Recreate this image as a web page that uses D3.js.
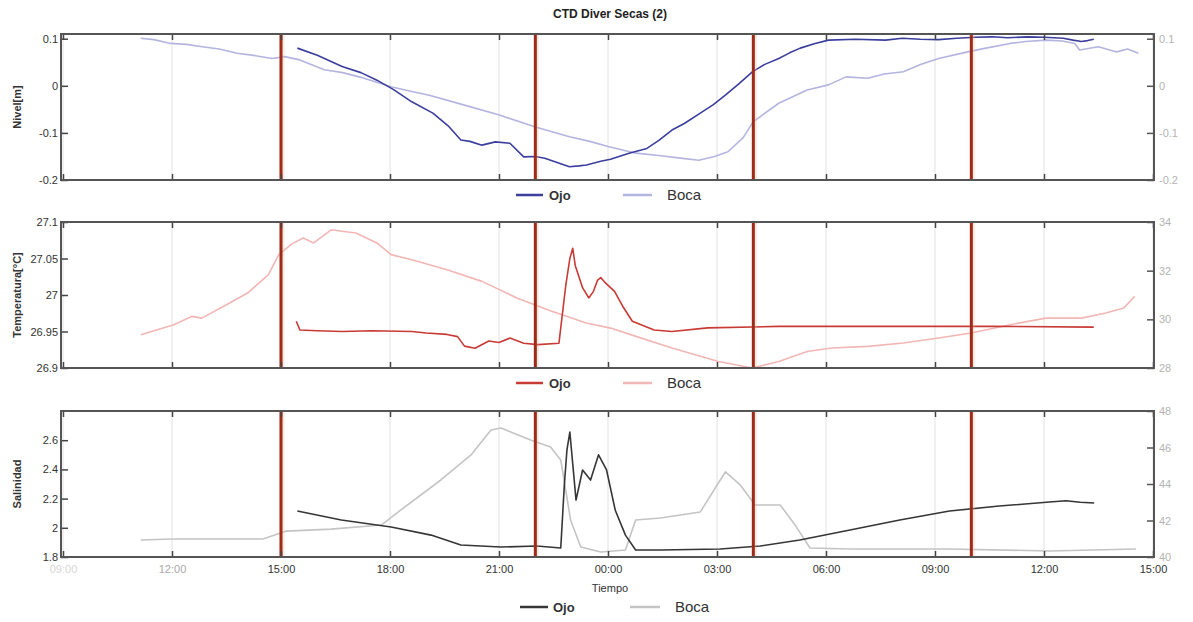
<!DOCTYPE html>
<html>
<head>
<meta charset="utf-8">
<script src="https://cdn.jsdelivr.net/npm/d3@7"></script>
<style>
  html, body { margin: 0; padding: 0; background: #fff; }
  svg { display: block; font-family: "Liberation Sans", Arial, sans-serif; }
</style>
</head>
<body>
<svg id="chart" width="1193" height="622"></svg>
<script>
// Time is given in hours from midnight of the first day (24+ = next day).
const timeDomain = [9, 39];
const eventHours = [15, 22, 28, 34];

// --- Nivel [m] ---
const nivelOjoH = [15.45, 16.0, 16.68, 17.2, 17.64, 18.1, 18.6, 19.18, 19.6, 19.95, 20.2, 20.53, 20.9, 21.3, 21.68, 22.0, 22.26, 22.6, 22.94, 23.2, 23.41, 23.8, 24.07, 24.58, 25.07, 25.4, 25.76, 26.1, 26.54, 26.9, 27.23, 27.6, 27.98, 28.3, 28.7, 29.0, 29.29, 29.7, 30.07, 30.8, 31.64, 32.1, 32.6, 33.1, 33.6, 34.1, 34.58, 35.0, 35.56, 36.0, 36.53, 36.8, 37.03, 37.2, 37.37];
const nivelOjo  = [0.080, 0.065, 0.041, 0.028, 0.012, -0.008, -0.034, -0.058, -0.085, -0.115, -0.118, -0.126, -0.119, -0.122, -0.151, -0.150, -0.154, -0.163, -0.172, -0.170, -0.168, -0.160, -0.156, -0.143, -0.133, -0.116, -0.094, -0.080, -0.058, -0.040, -0.020, 0.004, 0.030, 0.045, 0.058, 0.070, 0.080, 0.090, 0.097, 0.099, 0.097, 0.101, 0.099, 0.098, 0.101, 0.103, 0.104, 0.102, 0.104, 0.103, 0.101, 0.097, 0.094, 0.096, 0.099];
const nivelBocaH = [11.14, 11.5, 11.96, 12.4, 12.83, 13.3, 13.79, 14.3, 14.75, 15.1, 15.52, 16.19, 16.7, 17.15, 18.03, 18.6, 19.08, 20.05, 21.01, 21.98, 22.94, 23.5, 24.0, 24.77, 25.4, 26.05, 26.5, 26.93, 27.3, 27.72, 28.0, 28.7, 29.48, 30.07, 30.55, 31.15, 31.6, 32.13, 32.6, 33.1, 33.9, 34.4, 35.07, 35.5, 36.05, 36.5, 36.85, 36.98, 37.5, 38.0, 38.3, 38.6];
const nivelBoca  = [0.101, 0.098, 0.090, 0.088, 0.083, 0.078, 0.069, 0.064, 0.058, 0.062, 0.055, 0.034, 0.028, 0.019, -0.002, -0.012, -0.020, -0.041, -0.062, -0.087, -0.108, -0.118, -0.129, -0.143, -0.148, -0.154, -0.158, -0.150, -0.140, -0.110, -0.076, -0.037, -0.009, 0.002, 0.019, 0.016, 0.025, 0.030, 0.045, 0.058, 0.072, 0.080, 0.090, 0.094, 0.097, 0.095, 0.090, 0.076, 0.083, 0.072, 0.078, 0.069];

// --- Temperatura [°C] (Ojo: left axis, Boca: right axis) ---
const tempOjoH = [15.42, 15.52, 16.0, 16.68, 17.5, 18.6, 19.0, 19.57, 19.86, 20.05, 20.34, 20.72, 21.0, 21.3, 21.68, 22.07, 22.65, 22.84, 22.95, 23.03, 23.1, 23.18, 23.3, 23.47, 23.6, 23.71, 23.8, 23.9, 24.18, 24.4, 24.67, 25.27, 25.76, 26.74, 28.7, 31.64, 34.58, 37.37];
const tempOjo  = [26.964, 26.952, 26.951, 26.950, 26.951, 26.950, 26.948, 26.946, 26.943, 26.930, 26.927, 26.937, 26.935, 26.941, 26.934, 26.932, 26.934, 27.014, 27.050, 27.064, 27.040, 27.028, 27.010, 26.996, 27.005, 27.020, 27.024, 27.018, 27.005, 26.985, 26.964, 26.952, 26.950, 26.955, 26.957, 26.957, 26.957, 26.956];
const tempBocaH = [11.14, 12.05, 12.54, 12.82, 13.5, 14.08, 14.65, 14.94, 15.3, 15.61, 15.9, 16.38, 16.68, 17.06, 17.64, 18.03, 18.6, 19.57, 20.53, 21.49, 22.45, 23.4, 24.07, 24.77, 25.76, 27.04, 27.97, 28.7, 29.48, 30.16, 31.15, 32.13, 33.1, 33.99, 35.07, 36.05, 37.03, 37.7, 38.2, 38.5];
const tempBoca  = [29.37, 29.78, 30.12, 30.05, 30.60, 31.08, 31.83, 32.66, 33.10, 33.34, 33.14, 33.68, 33.62, 33.55, 33.14, 32.66, 32.45, 32.04, 31.56, 30.88, 30.33, 29.85, 29.64, 29.30, 28.82, 28.27, 28.00, 28.27, 28.68, 28.82, 28.89, 29.03, 29.23, 29.44, 29.78, 30.05, 30.05, 30.26, 30.47, 30.95];

// --- Salinidad (Ojo: left axis, Boca: right axis) ---
const salOjoH = [15.45, 16.66, 18.03, 19.13, 19.95, 21.05, 22.04, 22.7, 22.8, 22.87, 22.95, 23.12, 23.3, 23.52, 23.74, 23.96, 24.2, 24.48, 24.76, 25.44, 27.09, 28.19, 29.28, 30.66, 32.03, 33.4, 34.77, 36.15, 36.6, 37.0, 37.38];
const salOjo  = [2.115, 2.053, 2.005, 1.950, 1.882, 1.868, 1.875, 1.862, 2.300, 2.533, 2.656, 2.190, 2.396, 2.327, 2.500, 2.396, 2.120, 1.950, 1.848, 1.848, 1.855, 1.875, 1.916, 1.985, 2.053, 2.115, 2.149, 2.177, 2.185, 2.175, 2.170];
const salBocaH = [11.14, 12.0, 14.5, 15.15, 16.38, 17.76, 18.3, 19.4, 20.23, 20.78, 21.05, 21.87, 22.42, 22.7, 22.97, 23.25, 23.8, 24.48, 24.76, 25.44, 26.54, 27.09, 27.23, 27.64, 28.05, 28.74, 29.15, 29.56, 30.66, 33.4, 36.15, 38.53];
const salBoca  = [40.93, 40.99, 40.99, 41.42, 41.53, 41.75, 42.58, 44.22, 45.59, 46.96, 47.07, 46.41, 46.03, 45.32, 42.03, 40.55, 40.27, 40.38, 42.03, 42.14, 42.47, 44.22, 44.66, 43.95, 42.85, 42.85, 41.75, 40.49, 40.44, 40.44, 40.33, 40.44];

// Axis tick values
const nivelTicks = [-0.2, -0.1, 0, 0.1];
const tempLeftTicks = [26.9, 26.95, 27, 27.05, 27.1];
const tempRightTicks = [28, 30, 32, 34];
const salLeftTicks = [1.8, 2, 2.2, 2.4, 2.6];
const salRightTicks = [40, 42, 44, 46, 48];
const legendNames = ["Ojo", "Boca"];

const base = new Date(2000, 0, 1, 0, 0);
const toDate = h => new Date(base.getTime() + h * 3600 * 1000);
const plainNum = d => String(d);

const svg = d3.select("#chart");
const frameLeft = 61, frameRight = 1154;

const x = d3.scaleTime()
  .domain(timeDomain.map(toDate))
  .range([63, 1153]);
const hourTicks = x.ticks(d3.timeHour.every(3));

const panels = [
  {
    top: 34, bottom: 180, title: "Nivel[m]",
    leftDomain: [-0.2, 0.11], rightDomain: [-0.2, 0.11],
    leftTicks: nivelTicks, rightTicks: nivelTicks,
    ojo: { h: nivelOjoH, v: nivelOjo, axis: "L", color: "#3b3e9c" },
    boca: { h: nivelBocaH, v: nivelBoca, axis: "L", color: "#b3b5e0" },
    legendY: 195
  },
  {
    top: 222, bottom: 368, title: "Temperatura[°C]",
    leftDomain: [26.9, 27.1], rightDomain: [28, 34],
    leftTicks: tempLeftTicks, rightTicks: tempRightTicks,
    ojo: { h: tempOjoH, v: tempOjo, axis: "L", color: "#c83a36" },
    boca: { h: tempBocaH, v: tempBoca, axis: "R", color: "#f1b7b5" },
    legendY: 383
  },
  {
    top: 411, bottom: 557, title: "Salinidad",
    leftDomain: [1.8, 2.8], rightDomain: [40, 48],
    leftTicks: salLeftTicks, rightTicks: salRightTicks,
    ojo: { h: salOjoH, v: salOjo, axis: "L", color: "#363636" },
    boca: { h: salBocaH, v: salBoca, axis: "R", color: "#c4c4c4" },
    legendY: 607
  }
];

// Title
svg.append("text")
  .attr("x", 610).attr("y", 18)
  .attr("text-anchor", "middle")
  .attr("font-size", 12).attr("font-weight", "bold")
  .attr("fill", "#222")
  .text("CTD Diver Secas (2)");

panels.forEach((p, i) => {
  const g = svg.append("g");
  const yL = d3.scaleLinear().domain(p.leftDomain).range([p.bottom, p.top]);
  const yR = d3.scaleLinear().domain(p.rightDomain).range([p.bottom, p.top]);

  // vertical grid
  g.append("g").selectAll("line").data(hourTicks).join("line")
    .attr("x1", d => x(d)).attr("x2", d => x(d))
    .attr("y1", p.top).attr("y2", p.bottom)
    .attr("stroke", "#e2e2e2").attr("stroke-width", 1);

  // series
  const mkLine = (s) => d3.line()
    .x((d, k) => x(toDate(s.h[k])))
    .y((d, k) => (s.axis === "L" ? yL : yR)(s.v[k]));
  [p.boca, p.ojo].forEach(s => {
    g.append("path")
      .datum(s.v)
      .attr("d", mkLine(s))
      .attr("fill", "none")
      .attr("stroke", s.color)
      .attr("stroke-width", 1.6)
      .attr("stroke-linejoin", "round");
  });

  // event markers
  const ev = g.append("g");
  ev.selectAll("line.halo").data(eventHours).join("line")
    .attr("class", "halo")
    .attr("x1", d => x(toDate(d)) + 1).attr("x2", d => x(toDate(d)) + 1)
    .attr("y1", p.top).attr("y2", p.bottom)
    .attr("stroke", "#f6b98a").attr("stroke-width", 5).attr("opacity", 0.3);
  ev.selectAll("line.core").data(eventHours).join("line")
    .attr("class", "core")
    .attr("x1", d => x(toDate(d))).attr("x2", d => x(toDate(d)))
    .attr("y1", p.top).attr("y2", p.bottom)
    .attr("stroke", "#9e2a1c").attr("stroke-width", 3);

  // x ticks (inside, top and bottom)
  const xb = g.append("g").attr("transform", `translate(0,${p.bottom})`)
    .call(d3.axisBottom(x).tickValues(hourTicks).tickSize(-6)
      .tickFormat(i === 2 ? d3.timeFormat("%H:%M") : ""));
  const xt = g.append("g").attr("transform", `translate(0,${p.top})`)
    .call(d3.axisTop(x).tickValues(hourTicks).tickSize(-6).tickFormat(""));
  [xb, xt].forEach(a => {
    a.select(".domain").remove();
    a.selectAll(".tick line").attr("stroke", "#444").attr("stroke-width", 1.5);
  });
  if (i === 2) {
    xb.selectAll(".tick text")
      .attr("dy", "1.2em")
      .attr("font-size", 11)
      .attr("fill", (d, k) => k === 0 ? "#d6d6d6" : (k === 1 ? "#a8a8a8" : "#333"));
  }

  // left axis
  const al = g.append("g").attr("transform", `translate(${frameLeft},0)`)
    .call(d3.axisLeft(yL).tickValues(p.leftTicks).tickSize(-7).tickPadding(3).tickFormat(plainNum));
  al.select(".domain").remove();
  al.selectAll(".tick line").attr("stroke", "#444").attr("stroke-width", 1.5);
  al.selectAll(".tick text").attr("font-size", 11).attr("fill", "#333");

  // right axis
  const ar = g.append("g").attr("transform", `translate(${frameRight},0)`)
    .call(d3.axisRight(yR).tickValues(p.rightTicks).tickSize(-7).tickPadding(5).tickFormat(plainNum));
  ar.select(".domain").remove();
  ar.selectAll(".tick line").attr("stroke", "#555").attr("stroke-width", 1.5);
  ar.selectAll(".tick text").attr("font-size", 11).attr("fill", "#b4b4b4");

  // frame
  g.append("rect")
    .attr("x", frameLeft).attr("y", p.top)
    .attr("width", frameRight - frameLeft).attr("height", p.bottom - p.top)
    .attr("fill", "none").attr("stroke", "#555").attr("stroke-width", 2);

  // y title
  const cy = (p.top + p.bottom) / 2;
  svg.append("text")
    .attr("transform", `translate(21,${cy}) rotate(-90)`)
    .attr("text-anchor", "middle")
    .attr("font-size", 11).attr("font-weight", "bold")
    .attr("fill", "#333")
    .text(p.title);

  // legend
  const lg = svg.append("g").attr("transform", `translate(0,${p.legendY})`);
  const items = [
    { name: legendNames[0], x0: 516, x1: 543, tx: 549, fs: 13, color: p.ojo.color },
    { name: legendNames[1], x0: 623, x1: 652, tx: 667, fs: 15, color: p.boca.color }
  ];
  if (i === 2) { items[0].x0 = 520; items[0].x1 = 548; items[0].tx = 553; items[1].x0 = 630; items[1].x1 = 660; items[1].tx = 675; }
  items.forEach((it, k) => {
    lg.append("line")
      .attr("x1", it.x0).attr("x2", it.x1).attr("y1", 0).attr("y2", 0)
      .attr("stroke", it.color).attr("stroke-width", 2.5);
    lg.append("text")
      .attr("x", it.tx).attr("y", 5)
      .attr("font-size", it.fs).attr("font-weight", k === 0 ? "bold" : "normal")
      .attr("fill", "#333")
      .text(it.name);
  });
});

// x title
svg.append("text")
  .attr("x", 610).attr("y", 592)
  .attr("text-anchor", "middle")
  .attr("font-size", 11)
  .attr("fill", "#333")
  .text("Tiempo");
</script>
</body>
</html>
